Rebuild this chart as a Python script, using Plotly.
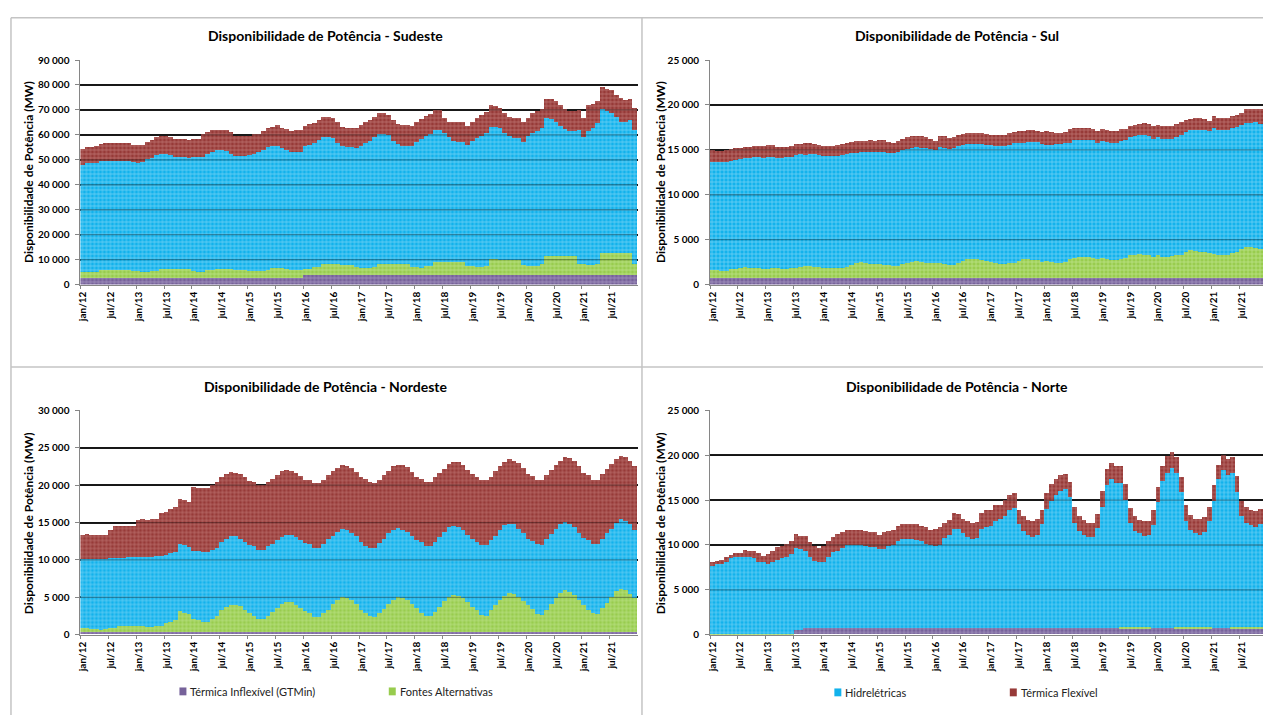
import plotly.graph_objects as go

# ---------------- categories / tick labels ----------------
meses = ["jan", "fev", "mar", "abr", "mai", "jun", "jul", "ago", "set", "out", "nov", "dez"]
anos = ["12", "13", "14", "15", "16", "17", "18", "19", "20", "21"]
categorias = [f"{m}/{a}" for a in anos for m in meses]

series_nomes = ["Térmica Inflexível (GTMin)", "Fontes Alternativas", "Hidrelétricas", "Térmica Flexível"]

# ---------------- data: stacked levels (MW) ----------------
# SUDESTE
se_lvl_gtmin = [
    2500, 2500, 2500, 2500, 2500, 2500, 2500, 2500, 2500, 2500, 2500, 2500,
    2500, 2500, 2500, 2500, 2500, 2500, 2500, 2500, 2500, 2500, 2500, 2500,
    2500, 2500, 2500, 2500, 2500, 2500, 2500, 2500, 2500, 2500, 2500, 2500,
    2500, 2500, 2500, 2500, 2500, 2500, 2500, 2500, 2500, 2500, 2500, 2500,
    3800, 3800, 3800, 3800, 3800, 3800, 3800, 3800, 3800, 3800, 3800, 3800,
    3800, 3800, 3800, 3800, 3800, 3800, 3800, 3800, 3800, 3800, 3800, 3800,
    3800, 3800, 3800, 3800, 3800, 3800, 3800, 3800, 3800, 3800, 3800, 3800,
    3800, 3800, 3800, 3800, 3800, 3800, 3800, 3800, 3800, 3800, 3800, 3800,
    3800, 3800, 3800, 3800, 3800, 3800, 3800, 3800, 3800, 3800, 3800, 3800,
    3800, 3800, 3800, 3800, 3800, 3800, 3800, 3800, 3800, 3800, 3800, 3800]
se_lvl_alt = [
    4900, 4900, 5100, 5100, 5900, 5900, 5900, 5900, 5700, 5700, 5900, 5300,
    5300, 5000, 5000, 5500, 5500, 6400, 6400, 6400, 6200, 6200, 6200, 6200,
    5300, 5100, 5100, 5900, 5900, 6400, 6400, 6400, 6400, 6000, 6000, 6000,
    5500, 5300, 5300, 5300, 5900, 6800, 6800, 6800, 6400, 6000, 6000, 6000,
    6300, 6300, 7000, 7200, 8300, 8300, 8300, 8300, 7800, 7800, 7800, 7200,
    6700, 6700, 6600, 7200, 8300, 8300, 8300, 8300, 8300, 8300, 8300, 7200,
    7200, 6600, 7500, 7500, 9100, 9100, 9100, 9100, 9100, 9100, 9100, 7500,
    7500, 7200, 7000, 7500, 10400, 10400, 9900, 9900, 9900, 9900, 9900, 7900,
    7500, 7500, 7500, 8100, 11400, 11400, 11400, 11400, 11400, 11400, 11400, 8300,
    8300, 7800, 7800, 8400, 12700, 12700, 12700, 12500, 12500, 12700, 12700, 8400]
se_lvl_hidr = [
    47800, 48600, 48600, 48600, 49500, 49500, 49500, 49500, 49500, 49500, 49500, 49100,
    48600, 49100, 50200, 50900, 51800, 52400, 52400, 51900, 51200, 51200, 51200, 50900,
    51000, 51000, 51200, 52200, 53200, 54000, 54000, 53500, 52200, 51500, 51500, 51500,
    51900, 52400, 53200, 54000, 55100, 55600, 55600, 54800, 54000, 53200, 53200, 53200,
    55600, 56100, 56900, 57900, 59300, 59300, 58700, 56900, 55500, 55100, 55100, 54600,
    55700, 56800, 57700, 59000, 60300, 60300, 59800, 57700, 56400, 55700, 55700, 55500,
    57200, 58500, 59400, 60300, 61900, 61900, 60700, 59000, 57400, 57000, 57000, 55800,
    57700, 58700, 59700, 60700, 63300, 63300, 62700, 60700, 59400, 58700, 58700, 57000,
    59400, 60700, 61400, 62700, 66600, 66400, 65300, 63600, 62300, 61600, 61600, 61900,
    59000, 61400, 62900, 64700, 70200, 69600, 68600, 67000, 65300, 65000, 66000, 62000]
se_lvl_total = [
    54400, 55200, 55300, 55700, 56400, 56800, 56800, 56800, 56800, 56800, 56800, 56100,
    55800, 56100, 57200, 58100, 59000, 59500, 59600, 59300, 58500, 58500, 58500, 58100,
    58500, 58500, 60300, 61100, 61900, 61900, 61900, 61900, 61100, 59500, 59500, 59500,
    59500, 60300, 60400, 61600, 62900, 63300, 64000, 62900, 62400, 61600, 61800, 61800,
    63700, 64400, 64700, 66000, 67100, 67000, 66600, 65000, 63300, 62700, 62700, 62900,
    64000, 65000, 66000, 67100, 68600, 68600, 67900, 66000, 64400, 64000, 64000, 63600,
    65000, 66400, 67500, 68300, 69900, 69900, 66900, 65200, 65000, 65000, 65000, 63600,
    65200, 66600, 67900, 69000, 71900, 71500, 70800, 68800, 67300, 66600, 66600, 65000,
    66900, 68800, 69400, 70500, 74500, 74500, 73500, 71900, 70300, 69600, 69600, 69900,
    66600, 71900, 72200, 73500, 79000, 78400, 77800, 75800, 74800, 73900, 74500, 70600]

# SUL
sul_lvl_gtmin = [
    700, 700, 700, 700, 700, 700, 700, 700, 700, 700, 700, 700,
    700, 700, 700, 700, 700, 700, 700, 700, 700, 700, 700, 700,
    700, 700, 700, 700, 700, 700, 700, 700, 700, 700, 700, 700,
    700, 700, 700, 700, 700, 700, 700, 700, 700, 700, 700, 700,
    700, 700, 700, 700, 700, 700, 700, 700, 700, 700, 700, 700,
    700, 700, 700, 700, 700, 700, 700, 700, 700, 700, 700, 700,
    700, 700, 700, 700, 700, 700, 700, 700, 700, 700, 700, 700,
    700, 700, 700, 700, 700, 700, 700, 700, 700, 700, 700, 700,
    700, 700, 700, 700, 700, 700, 700, 700, 700, 700, 700, 700,
    700, 700, 700, 700, 700, 700, 700, 700, 700, 700, 700, 700]
sul_lvl_alt = [
    1600, 1600, 1500, 1500, 1700, 1700, 1800, 2000, 1900, 1900, 1800, 1700,
    1700, 1800, 1800, 1700, 1700, 1900, 1900, 2000, 2100, 2100, 2000, 2000,
    1900, 1900, 1900, 1900, 1900, 2000, 2200, 2400, 2500, 2400, 2300, 2300,
    2300, 2200, 2200, 2100, 2100, 2300, 2400, 2500, 2600, 2500, 2400, 2400,
    2400, 2400, 2300, 2200, 2200, 2400, 2600, 2800, 2800, 2800, 2700, 2600,
    2500, 2350, 2300, 2300, 2400, 2400, 2650, 2850, 2850, 2700, 2700, 2500,
    2600, 2550, 2400, 2400, 2550, 2800, 3000, 3070, 3070, 3070, 3000, 2800,
    3000, 2850, 2700, 2700, 2800, 3000, 3250, 3350, 3450, 3350, 3250, 3100,
    3250, 3100, 3050, 3150, 3250, 3300, 3600, 3800, 3750, 3650, 3650, 3500,
    3450, 3300, 3300, 3300, 3500, 3650, 4000, 4150, 4150, 4050, 3950, 3900]
sul_lvl_hidr = [
    13700, 13700, 13600, 13700, 13800, 13900, 14000, 14100, 14100, 14200, 14200, 14100,
    14200, 14200, 14100, 14100, 14200, 14200, 14400, 14500, 14400, 14500, 14500, 14400,
    14300, 14300, 14300, 14300, 14400, 14500, 14600, 14700, 14800, 14800, 14800, 14800,
    14800, 14800, 14700, 14600, 14800, 15000, 15100, 15200, 15300, 15200, 15200, 15100,
    15000, 15300, 15200, 15100, 15200, 15400, 15500, 15700, 15700, 15700, 15600, 15500,
    15500, 15450, 15400, 15400, 15550, 15750, 15800, 15800, 15900, 15900, 15850, 15650,
    15550, 15550, 15600, 15600, 15750, 15800, 16100, 16100, 16100, 16100, 16050, 15800,
    16000, 15900, 15800, 15800, 16000, 16100, 16400, 16500, 16600, 16600, 16550, 16200,
    16450, 16200, 16200, 16250, 16450, 16600, 17000, 17200, 17200, 17200, 17200, 17100,
    17400, 17250, 17200, 17200, 17400, 17500, 17750, 18000, 18000, 18050, 17850, 17800]
sul_lvl_total = [
    15000, 14900, 14900, 15000, 15100, 15200, 15200, 15300, 15300, 15400, 15400, 15400,
    15500, 15500, 15300, 15300, 15300, 15400, 15600, 15600, 15800, 15800, 15600, 15500,
    15400, 15400, 15400, 15500, 15700, 15800, 15900, 16000, 16000, 16000, 16100, 16000,
    16100, 16100, 15900, 15800, 16000, 16200, 16400, 16500, 16500, 16500, 16400, 16200,
    16000, 16500, 16500, 16300, 16400, 16600, 16800, 16900, 16900, 16900, 16900, 16800,
    16700, 16700, 16600, 16600, 16900, 17000, 17100, 17100, 17200, 17200, 17100, 17000,
    17100, 17000, 16850, 16850, 17000, 17300, 17400, 17400, 17400, 17400, 17300, 17100,
    17300, 17200, 17100, 17100, 17300, 17300, 17650, 17750, 17900, 17950, 17900, 17600,
    17750, 17600, 17650, 17700, 17850, 18050, 18300, 18400, 18500, 18500, 18400, 18200,
    18800, 18600, 18500, 18550, 18800, 18900, 19150, 19500, 19500, 19600, 19500, 19400]

# NORDESTE
ne_lvl_gtmin = [
    350, 350, 350, 350, 350, 350, 350, 350, 350, 350, 350, 350,
    350, 350, 350, 350, 350, 350, 350, 350, 350, 350, 350, 350,
    350, 350, 350, 350, 350, 350, 350, 350, 350, 350, 350, 350,
    350, 350, 350, 350, 350, 350, 350, 350, 350, 350, 350, 350,
    350, 350, 350, 350, 350, 350, 350, 350, 350, 350, 350, 350,
    350, 350, 350, 350, 350, 350, 350, 350, 350, 350, 350, 350,
    350, 350, 350, 350, 350, 350, 350, 350, 350, 350, 350, 350,
    350, 350, 350, 350, 350, 350, 350, 350, 350, 350, 350, 350,
    350, 350, 350, 350, 350, 350, 350, 350, 350, 350, 350, 350,
    350, 350, 350, 350, 350, 350, 350, 350, 350, 350, 350, 350]
ne_lvl_alt = [
    800, 800, 660, 660, 570, 700, 880, 880, 1050, 1050, 1050, 1050,
    1050, 1050, 960, 960, 1050, 1050, 1500, 1670, 1900, 3070, 2900, 2700,
    2000, 1840, 1670, 1670, 2000, 2400, 3200, 3700, 3950, 3950, 3800, 3300,
    2800, 2400, 2000, 2000, 2500, 3000, 3500, 4000, 4250, 4250, 3950, 3500,
    3070, 2850, 2300, 2300, 2800, 3300, 4000, 4600, 4950, 4800, 4560, 4000,
    3300, 2850, 2400, 2300, 2850, 3400, 4100, 4600, 4950, 4900, 4600, 4100,
    3500, 2900, 2500, 2400, 3000, 3600, 4400, 5000, 5300, 5100, 4800, 4250,
    3600, 3200, 2600, 2500, 3200, 3900, 4600, 5100, 5500, 5400, 5000, 4500,
    3900, 3400, 2750, 2600, 3300, 4000, 4800, 5500, 5900, 5700, 5300, 4600,
    3900, 3300, 2850, 2700, 3500, 4200, 5000, 5800, 6050, 5900, 5400, 4800]
ne_lvl_hidr = [
    10000, 10000, 10000, 10000, 10000, 10000, 10200, 10200, 10200, 10200, 10300, 10300,
    10300, 10300, 10300, 10300, 10400, 10400, 10600, 10800, 11000, 12100, 11900, 11700,
    11200, 11100, 11000, 11000, 11300, 11600, 12400, 12700, 13100, 13100, 12800, 12400,
    11900, 11800, 11300, 11300, 11800, 12100, 12600, 13000, 13300, 13300, 13000, 12600,
    12200, 12100, 11600, 11600, 12100, 12700, 13200, 13700, 14100, 13900, 13600, 13200,
    12300, 11800, 11600, 11600, 12200, 12800, 13500, 13900, 14200, 14000, 13700, 13200,
    12600, 12300, 11800, 11800, 12400, 13000, 13700, 14300, 14500, 14400, 14000, 13300,
    12700, 12400, 12000, 12000, 12600, 13200, 13900, 14600, 14700, 14700, 14100, 13500,
    12800, 12500, 12100, 11900, 12700, 13400, 14100, 14800, 15000, 14800, 14400, 13600,
    12900, 12600, 12100, 12100, 12800, 13500, 14100, 14900, 15400, 15100, 14700, 14000]
ne_lvl_total = [
    13300, 13400, 13300, 13300, 13300, 13300, 13900, 14500, 14500, 14500, 14500, 14500,
    15300, 15400, 15300, 15400, 15400, 16200, 16400, 16800, 17000, 18100, 17900, 17700,
    19700, 19600, 19500, 19500, 20000, 20300, 21100, 21400, 21700, 21600, 21400, 21000,
    20500, 20300, 20000, 20000, 20300, 20800, 21300, 21800, 22000, 21800, 21600, 21200,
    20700, 20600, 20200, 20200, 20700, 21300, 21800, 22300, 22600, 22500, 22300, 21700,
    21000, 20800, 20300, 20200, 20700, 21300, 21800, 22500, 22700, 22600, 22400, 21700,
    21100, 20800, 20300, 20300, 21000, 21600, 22100, 22800, 23100, 23100, 22700, 22000,
    21400, 21100, 20600, 20600, 21100, 21800, 22500, 23100, 23500, 23200, 22900, 22200,
    21400, 21200, 20600, 20600, 21300, 22000, 22700, 23200, 23700, 23600, 23200, 22500,
    21600, 21300, 20700, 20700, 21400, 22100, 22800, 23400, 23800, 23700, 23200, 22500]

# NORTE
no_lvl_gtmin = [
    0, 0, 0, 0, 0, 0, 0, 0, 0, 0, 0, 0,
    0, 0, 0, 0, 0, 0, 450, 450, 650, 650, 650, 650,
    650, 650, 650, 650, 650, 650, 650, 650, 650, 650, 650, 650,
    650, 650, 650, 650, 650, 650, 650, 650, 650, 650, 650, 650,
    650, 650, 650, 650, 650, 650, 650, 650, 650, 650, 650, 650,
    650, 650, 650, 650, 650, 650, 650, 650, 650, 650, 650, 650,
    650, 650, 650, 650, 650, 650, 650, 650, 650, 650, 650, 650,
    650, 650, 650, 650, 650, 650, 650, 650, 650, 650, 650, 650,
    650, 650, 650, 650, 650, 650, 650, 650, 650, 650, 650, 650,
    650, 650, 650, 650, 650, 650, 650, 650, 650, 650, 650, 650]
no_lvl_alt = [
    40, 40, 40, 40, 40, 40, 40, 40, 40, 40, 40, 40,
    40, 40, 40, 40, 40, 40, 450, 450, 650, 650, 650, 650,
    650, 650, 650, 650, 650, 650, 650, 650, 650, 650, 650, 650,
    650, 650, 650, 650, 650, 650, 650, 650, 650, 650, 650, 650,
    650, 650, 650, 650, 650, 650, 650, 650, 650, 650, 650, 650,
    650, 650, 650, 650, 650, 650, 650, 650, 650, 650, 650, 650,
    650, 650, 650, 650, 650, 650, 650, 650, 650, 650, 650, 650,
    650, 650, 650, 650, 800, 800, 800, 800, 800, 800, 800, 650,
    650, 650, 650, 650, 800, 800, 800, 800, 800, 800, 800, 800,
    650, 650, 650, 650, 800, 800, 800, 800, 800, 800, 800, 800]
no_lvl_hidr = [
    7650, 7800, 7850, 8100, 8450, 8600, 8650, 8650, 8600, 8500, 8100, 8000,
    7850, 8100, 8300, 8450, 8650, 8900, 9600, 9450, 9250, 8600, 8200, 8100,
    8100, 8650, 9200, 9300, 9600, 9900, 9900, 9900, 9900, 9800, 9700, 9700,
    9500, 9550, 9800, 9900, 10350, 10650, 10650, 10650, 10550, 10350, 10100, 9900,
    9850, 10000, 10700, 11100, 11700, 11700, 11250, 10800, 10650, 10750, 11700, 12000,
    12100, 12650, 12800, 13200, 13800, 14100, 12300, 11550, 11100, 10800, 11100, 12300,
    14000, 14900, 15550, 16000, 16200, 15300, 12450, 11550, 11100, 10800, 10800, 11800,
    14200, 16650, 17300, 16900, 16900, 15000, 12400, 11550, 11250, 10900, 11100, 12200,
    14700, 17100, 18000, 18500, 18000, 15900, 12650, 11650, 11300, 11100, 11450, 12650,
    14900, 17300, 18300, 17750, 18000, 15850, 13200, 12450, 12150, 12000, 12300, 13200]
no_lvl_total = [
    8100, 8200, 8300, 8600, 8800, 9000, 9100, 9400, 9300, 9250, 9000, 8700,
    8900, 9300, 9700, 9800, 10100, 10350, 11150, 11000, 10900, 10300, 9800, 9650,
    9800, 10350, 10800, 11150, 11400, 11650, 11650, 11650, 11600, 11550, 11350, 11350,
    11100, 11350, 11550, 11650, 12100, 12300, 12300, 12300, 12300, 12100, 11900, 11650,
    11700, 11900, 12400, 12750, 13550, 13400, 12900, 12600, 12400, 12500, 13550, 13850,
    13850, 14450, 14400, 15000, 15500, 15800, 13900, 13200, 12750, 12650, 12800, 13900,
    15750, 16700, 17350, 17700, 17900, 17000, 14200, 13200, 12750, 12400, 12400, 13450,
    16000, 18400, 19100, 18750, 18750, 16800, 14100, 13200, 12700, 12650, 12650, 13850,
    16400, 18750, 19850, 20300, 19800, 17550, 14450, 13300, 12900, 12800, 13100, 14200,
    16600, 18900, 20000, 19500, 19800, 17600, 14900, 14200, 13850, 13700, 14000, 15000]

# ---------------- styling ----------------
W, H = 1263, 720
FONT = "Lato, 'Open Sans', sans-serif"
cores = ["#76629A", "#98CC4E", "#12B2EC", "#973A38"]
cores_claras = ["#A294C0", "#BDE288", "#6ED0F4", "#BD7472"]


def px(x):
    return x / W


def py(y):
    return 1 - y / H


def camadas(lv_gtmin, lv_alt, lv_hidr, lv_total):
    """Turn the stacked levels into the four stacked segment values."""
    seg_alt = [a - g for a, g in zip(lv_alt, lv_gtmin)]
    seg_hidr = [h - a for h, a in zip(lv_hidr, lv_alt)]
    seg_term = [t - h for t, h in zip(lv_total, lv_hidr)]
    return [list(lv_gtmin), seg_alt, seg_hidr, seg_term]


paineis = [
    dict(n="", titulo="Disponibilidade de Potência - Sudeste",
         dados=camadas(se_lvl_gtmin, se_lvl_alt, se_lvl_hidr, se_lvl_total),
         xd=[px(76.7), px(635.6)], yd=[py(282.3), py(53.9)], ymax=90000, dt=10000,
         xr=[-0.5, 119.5], cx=323, ty=29, yt_x=24, yt_y=168),
    dict(n="2", titulo="Disponibilidade de Potência - Sul",
         dados=camadas(sul_lvl_gtmin, sul_lvl_alt, sul_lvl_hidr, sul_lvl_total),
         xd=[px(708.3), 1.0], yd=[py(282.3), py(53.9)], ymax=25000, dt=5000,
         xr=[-0.5, -0.5 + (W - 708.3) / 4.659], cx=956, ty=29, yt_x=658, yt_y=168),
    dict(n="3", titulo="Disponibilidade de Potência - Nordeste",
         dados=camadas(ne_lvl_gtmin, ne_lvl_alt, ne_lvl_hidr, ne_lvl_total),
         xd=[px(76.7), px(635.6)], yd=[py(638.3), py(410.3)], ymax=30000, dt=5000,
         xr=[-0.5, 119.5], cx=323, ty=386, yt_x=24, yt_y=525),
    dict(n="4", titulo="Disponibilidade de Potência - Norte",
         dados=camadas(no_lvl_gtmin, no_lvl_alt, no_lvl_hidr, no_lvl_total),
         xd=[px(708.3), 1.0], yd=[py(638.3), py(410.3)], ymax=25000, dt=5000,
         xr=[-0.5, -0.5 + (W - 708.3) / 4.659], cx=956, ty=386, yt_x=658, yt_y=525),
]

fig = go.Figure()
annotations = []
shapes = []

for p in paineis:
    xa = "x" + p["n"]
    ya = "y" + p["n"]
    for k in range(4):
        fig.add_trace(go.Bar(
            x=categorias, y=p["dados"][k], name=series_nomes[k],
            xaxis=xa, yaxis=ya, showlegend=False,
            marker=dict(color=cores[k], line=dict(width=0),
                        pattern=dict(shape="+", fgcolor=cores_claras[k], bgcolor=cores[k],
                                     size=4, solidity=0.35, fillmode="replace")),
            hovertemplate="%{x}: %{y:,.0f} MW<extra>" + series_nomes[k] + "</extra>",
        ))
    common_x = dict(
        domain=p["xd"], anchor=ya, type="category", range=p["xr"],
        tickmode="linear", tick0=0, dtick=6, tickson="boundaries",
        tickangle=-90, ticks="outside", ticklen=3, tickcolor="#868686",
        showline=True, linecolor="#868686", linewidth=1, showgrid=False,
        tickfont=dict(family=FONT, size=10, color="black", weight="bold"),
        ticklabelstandoff=2, fixedrange=True,
    )
    common_y = dict(
        domain=p["yd"], anchor=xa, range=[0, p["ymax"]], dtick=p["dt"], tick0=0,
        tickformat=",d", showgrid=True, gridcolor="#1f1f1f", gridwidth=1.5,
        zeroline=False, showline=True, linecolor="#868686", linewidth=1,
        ticks="outside", ticklen=4, tickcolor="#868686", ticklabelstandoff=4,
        tickfont=dict(family=FONT, size=10, color="black", weight="bold"), fixedrange=True,
    )
    fig.update_layout({"xaxis" + p["n"]: common_x, "yaxis" + p["n"]: common_y})
    # gridlines visible through the bars
    v = p["dt"]
    while v < p["ymax"]:
        shapes.append(dict(type="line", xref=xa + " domain", yref=ya, x0=0, x1=1, y0=v, y1=v,
                           line=dict(color="rgba(0,0,0,0.33)", width=1.3), layer="above"))
        v += p["dt"]
    annotations.append(dict(text=p["titulo"], x=px(p["cx"]), y=py(p["ty"]), xref="paper", yref="paper",
                            showarrow=False, xanchor="center", yanchor="middle",
                            font=dict(family=FONT, size=14, color="black", weight="bold")))
    annotations.append(dict(text="Disponibilidade de Potência (MW)", x=px(p["yt_x"]), y=py(p["yt_y"]),
                            xref="paper", yref="paper", showarrow=False, textangle=-90,
                            xanchor="center", yanchor="middle",
                            font=dict(family=FONT, size=12, color="black", weight="bold")))

# panel frames (kept inside the page; right and bottom edges are cut in the original)
borda = dict(color="#C4C4C4", width=1.5)
for (x0, y0, x1, y1) in [(7, 11, W, 11), (7, 366, W, 366), (7, 11, 7, H), (640, 11, 640, H)]:
    shapes.append(dict(type="line", xref="paper", yref="paper", x0=px(x0), x1=px(x1),
                       y0=py(y0), y1=py(y1), line=borda, layer="below"))

# legend (drawn as key boxes + text, split under the two bottom panels)
leg_pos = [(176, 696), (386, 696), (833, 697), (1009, 697)]
for k, (lx, ly) in enumerate(leg_pos):
    shapes.append(dict(type="rect", xref="paper", yref="paper", x0=px(lx), x1=px(lx + 7),
                       y0=py(ly + 4), y1=py(ly - 4), fillcolor=cores[k], line=dict(width=0)))
    annotations.append(dict(text=series_nomes[k], x=px(lx + 9), y=py(ly), xref="paper", yref="paper",
                            showarrow=False, xanchor="left", yanchor="middle",
                            font=dict(family=FONT, size=11, color="#222222")))

fig.update_layout(
    width=W, height=H, margin=dict(l=0, r=0, t=0, b=0),
    paper_bgcolor="white", plot_bgcolor="white",
    barmode="stack", bargap=0, separators=". ",
    showlegend=False, annotations=annotations, shapes=shapes,
    font=dict(family=FONT, color="black"),
)

fig.write_html(
    "out.html",
    config={"displayModeBar": False},
    post_script="document.body.style.margin='0';document.body.style.padding='0';"
                "document.body.style.overflow='hidden';",
)
